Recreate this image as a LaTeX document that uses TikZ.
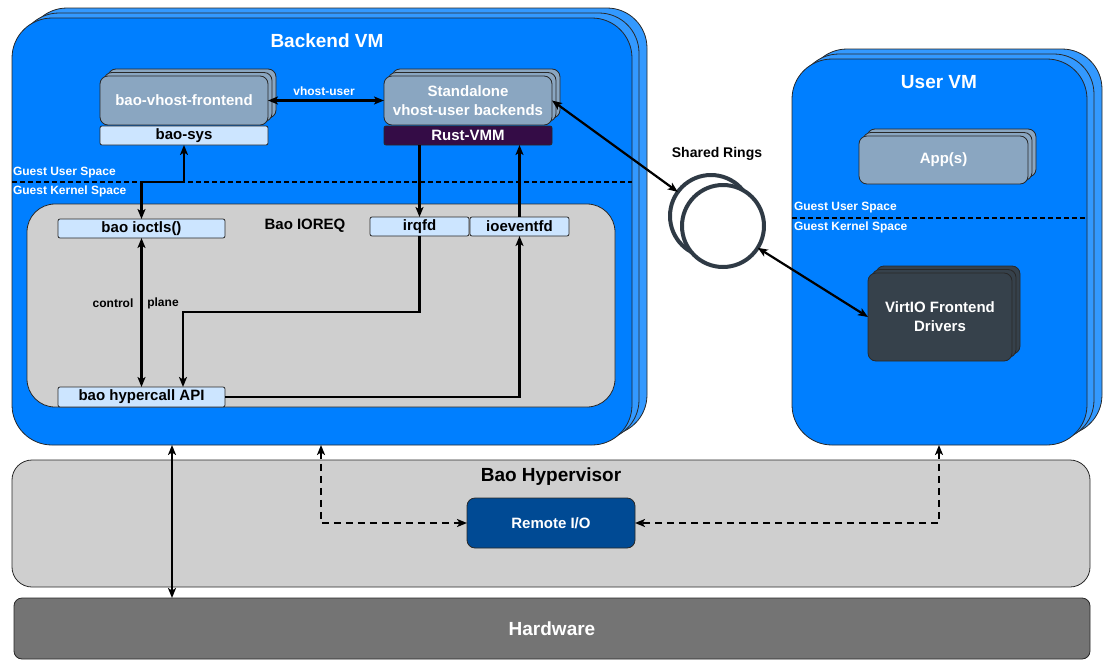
\documentclass[tikz,border=0pt]{standalone}
\usepackage{fontspec}
\setmainfont{Liberation Sans}
\usetikzlibrary{arrows.meta,shadows}

\definecolor{vmblue}{RGB}{0,127,255}
\definecolor{vmback}{RGB}{51,153,255}
\definecolor{appfill}{RGB}{138,166,193}
\definecolor{lightbox}{RGB}{204,229,255}
\definecolor{rustfill}{RGB}{52,12,70}
\definecolor{ioreqgray}{RGB}{207,207,207}
\definecolor{remotefill}{RGB}{0,74,148}
\definecolor{hwgray}{RGB}{116,116,116}
\definecolor{ringcol}{RGB}{47,58,69}
\definecolor{drvfill}{RGB}{54,65,75}
\definecolor{edgecol}{RGB}{40,40,40}

\newcommand\vmfont{\bfseries\fontsize{19}{22}\selectfont}
\newcommand\boxfont{\bfseries\fontsize{15}{19}\selectfont}
\newcommand\ringfont{\bfseries\fontsize{14}{17}\selectfont}
\newcommand\tagfont{\bfseries\fontsize{12}{14}\selectfont}

\begin{document}
\begin{tikzpicture}[x=1pt,y=-1pt,
  every node/.style={inner sep=0pt, outer sep=0pt},
  box/.style={draw=edgecol, line width=0.8pt},
  vm/.style={box, fill=vmblue, rounded corners=40pt, anchor=north west,
    copy shadow={shadow xshift=15pt, shadow yshift=10pt, fill=vmback, draw=edgecol},
    copy shadow={shadow xshift=7pt, shadow yshift=5pt, fill=vmback, draw=edgecol}},
  stack/.style={box, fill=#1, rounded corners=8pt, anchor=north west,
    minimum width=168pt, minimum height=49pt, text=white, font=\boxfont, align=center,
    copy shadow={shadow xshift=8pt, shadow yshift=7pt, fill=#1, draw=edgecol},
    copy shadow={shadow xshift=4pt, shadow yshift=3.5pt, fill=#1, draw=edgecol}},
  slab/.style={box, rounded corners=2pt, anchor=north west, minimum width=168pt,
    minimum height=19pt, font=\boxfont},
  panel/.style={box, fill=ioreqgray, anchor=north west},
  ring/.style={circle, draw=ringcol, line width=4pt, fill=white, minimum size=82pt},
  vmtitle/.style={font=\vmfont},
  spacelbl/.style={font=\tagfont, text=white, anchor=west},
  spaceline/.style={line width=1.2pt, dash pattern=on 5pt off 3pt},
  arr/.style={line width=2.2pt, draw=black},
  oneway/.style={arr, -{Stealth[length=10pt,width=8pt,inset=2.5pt]}},
  twoway/.style={arr, {Stealth[length=10pt,width=8pt,inset=2.5pt]}-{Stealth[length=10pt,width=8pt,inset=2.5pt]}},
  dashway/.style={twoway, dash pattern=on 7pt off 5pt}]
\useasboundingbox (0,0) rectangle (1117,664);

% Backend VM
\node[vm, minimum width=620pt, minimum height=427pt] (backend) at (12,18) {};
\node[vmtitle, text=white] (backendtitle) at (327,41) {Backend VM};
\node[stack=appfill] (frontend) at (100,76) {bao-vhost-frontend};
\node[slab, fill=lightbox] (baosys) at (100,126) {bao-sys};
\node[stack=appfill] (standalone) at (384,76) {Standalone\\vhost-user backends};
\node[slab, fill=rustfill, text=white] (rust) at (384,126) {Rust-VMM};
\draw[twoway] (frontend.east) -- (standalone.west);
\node[font=\tagfont, text=white] (vhostlbl) at (324,91) {vhost-user};
\node[spacelbl] (buser) at (13,173) {Guest User Space};
\draw[spaceline] (backend.west |- 0,182) -- (backend.east |- 0,182);
\node[spacelbl] (bkernel) at (13,191) {Guest Kernel Space};

% Bao IOREQ
\node[panel, rounded corners=28pt, minimum width=588pt, minimum height=203pt] (ioreq) at (27,204) {};
\node[font=\boxfont] (ioreqtitle) at (305,226) {Bao IOREQ};
\node[slab, fill=lightbox, minimum width=167pt] (ioctls) at (58,219) {bao ioctls()};
\node[slab, fill=lightbox, minimum width=99pt] (irqfd) at (370,217) {irqfd};
\node[slab, fill=lightbox, minimum width=99pt] (ioeventfd) at (470,217) {ioeventfd};
\node[slab, fill=lightbox, minimum width=167pt, minimum height=20pt] (hypercall) at (58,387) {bao hypercall API};
\draw[twoway] (ioctls.north) -- ++(0,-37) -| (baosys.south);
\draw[twoway] (ioctls.south) -- (hypercall.north);
\node[font=\tagfont] (ctrllbl) at (113,303) {control};
\node[font=\tagfont] (planelbl) at (163,303) {plane};
\draw[oneway] (rust.south -| irqfd.north) -- (irqfd.north);
\draw[oneway] (irqfd.south) -- ++(0,76) -| ([xshift=41.5pt]hypercall.north);
\draw[oneway] (hypercall.east) -| (ioeventfd.south);
\draw[oneway] (ioeventfd.north) -- (ioeventfd.north |- rust.south);

% shared rings
\node[ring] (ringback) at (711,216) {};
\node[ring] (ring) at (723,226) {};
\node[font=\ringfont] (ringlbl) at (717,154) {Shared Rings};

% User VM
\node[vm, minimum width=295pt, minimum height=386pt] (uservm) at (792,59) {};
\node[vmtitle, text=white] (usertitle) at (939,82) {User VM};
\node[stack=appfill, minimum width=169pt, minimum height=48pt] (apps) at (859,136) {App(s)};
\node[spacelbl] (uuser) at (794,208) {Guest User Space};
\draw[spaceline] (uservm.west |- 0,218) -- (uservm.east |- 0,218);
\node[spacelbl] (ukernel) at (794,227) {Guest Kernel Space};
\node[stack=drvfill, minimum width=144pt, minimum height=88pt] (drivers) at (868,273) {VirtIO Frontend\\Drivers};
\draw[twoway] (standalone.east) -- (ringback);
\draw[twoway] (ring) -- (drivers.west);

% hypervisor and hardware
\node[panel, rounded corners=20pt, minimum width=1078pt, minimum height=127pt] (hyp) at (12,460) {};
\node[vmtitle] (hyptitle) at (551,477) {Bao Hypervisor};
\node[box, fill=remotefill, rounded corners=8pt, anchor=north west, minimum width=168pt,
  minimum height=50pt, text=white, font=\boxfont] (remote) at (467,498) {Remote I/O};
\node[box, fill=hwgray, rounded corners=8pt, anchor=north west, minimum width=1076pt,
  minimum height=61pt, text=white, font=\vmfont] (hw) at (14,598) {Hardware};
\draw[dashway] (backend.south -| 321,0) |- (remote.west);
\draw[dashway] (uservm.south -| 939,0) |- (remote.east);
\draw[twoway] (backend.south -| 172,0) -- (hw.north -| 172,0);
\end{tikzpicture}
\end{document}
